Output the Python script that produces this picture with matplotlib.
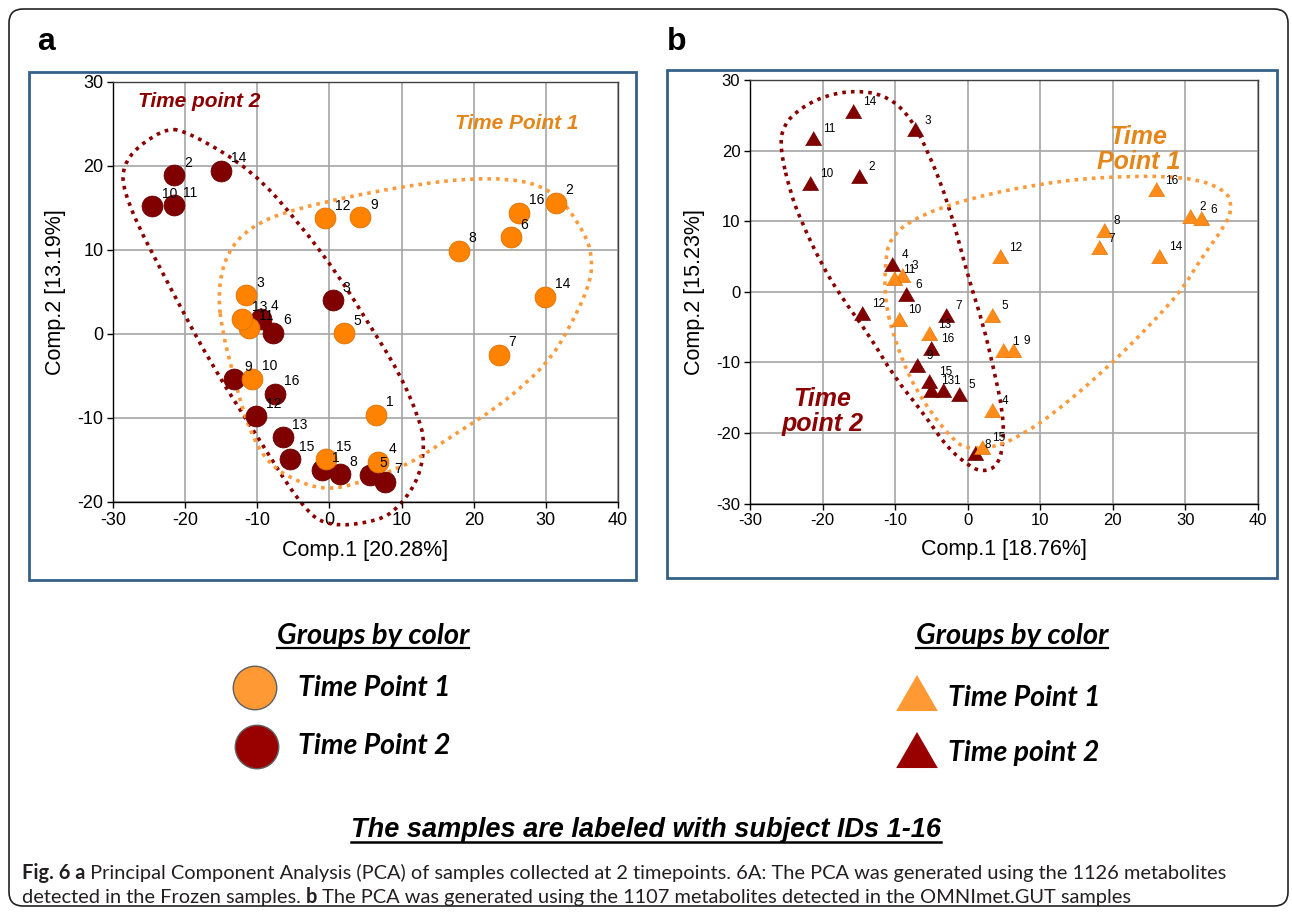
import numpy as np
import matplotlib.pyplot as plt
from matplotlib.path import Path
from matplotlib.patches import PathPatch, Rectangle, FancyBboxPatch

plt.rcParams["axes.unicode_minus"] = False

# ---- panel a : PCA of Frozen samples (circles) ----
ids = list(range(1, 17))
a_tp1_x = [6.5, 31.4, -11.5, 6.8, 2.0, 25.1, 23.5, 17.9, 4.3, -10.7, -11.1, -0.6, -12.1, 29.9, -0.5, 26.3]
a_tp1_y = [-9.6, 15.6, 4.6, -15.2, 0.1, 11.5, -2.5, 9.9, 13.9, -5.3, 0.7, 13.8, 1.75, 4.4, -14.9, 14.4]
a_tp2_x = [-1.0, -21.5, 0.5, -9.5, 5.6, -7.8, 7.7, 1.4, -13.2, -24.6, -21.6, -10.2, -6.5, -15.0, -5.5, -7.6]
a_tp2_y = [-16.2, 18.9, 4.0, 1.8, -16.8, 0.15, -17.6, -16.7, -5.4, 15.2, 15.3, -9.8, -12.3, 19.4, -14.9, -7.1]

# ---- panel b : PCA of OMNImet.GUT samples (triangles) ----
b_tp1_x = [4.8, 30.6, -9.1, 3.4, 3.3, 32.1, 18.1, 18.8, 6.3, -9.5, -10.2, 4.4, -5.4, 26.4, 2.0, 25.9]
b_tp1_y = [-8.3, 10.7, 2.4, -16.7, -3.3, 10.4, 6.3, 8.8, -8.2, -3.9, 1.9, 5.0, -5.9, 5.1, -22.0, 14.5]
b_tp2_x = [-3.4, -15.0, -7.3, -10.4, -1.2, -8.5, -3.0, 1.0, -7.0, -21.7, -21.3, -14.5, -5.0, -15.8, -5.3, -5.0]
b_tp2_y = [-13.9, 16.4, 23.0, 4.0, -14.5, -0.3, -3.3, -22.9, -10.4, 15.4, 21.8, -3.0, -13.9, 25.6, -12.6, -8.0]

# hand drawn group outlines (points along the dotted loops)
a_loop2_x = [-22.9, -28.8, -28.4, -21.7, -16.2, -9.7, -4.2, -0.5, 6.9, 9.9, 12.5, 13.2, 12.5, 9.7, 5.1, 1.4, -4.2, -10.7, -19.4]
a_loop2_y = [24.6, 20.7, 16.0, 4.9, -3.9, -12.6, -20.1, -23.0, -22.3, -20.4, -17.0, -13.0, -10.2, -4.6, 1.7, 6.8, 13.2, 19.5, 24.0]
a_loop1_x = [-15.5, -14.3, -11.1, -5.5, 9.7, 22.6, 30.9, 35.5, 36.5, 36.0, 33.0, 30.5, 27.2, 23.1, 18.0, 13.4, 10.2, 3.2, -0.4, -4.2, -8.7, -11.5, -13.4, -14.8]
a_loop1_y = [4.9, 9.6, 12.7, 14.8, 17.6, 18.8, 17.5, 12.0, 8.8, 5.6, 0.3, -3.1, -5.9, -8.8, -11.6, -14.2, -15.8, -18.0, -18.5, -17.7, -15.4, -10.6, -4.6, 0.1]
b_loop2_x = [-25.9, -25.4, -23.1, -19.4, -15.3, -11.6, -8.4, -5.6, -2.4, -0.1, 2.1, 3.5, 4.9, 4.9, 4.0, 2.1, 0.3, -2.9, -6.1, -10.2, -13.4, -17.6, -20.3, -22.9, -24.5]
b_loop2_y = [20.5, 23.6, 26.0, 27.9, 28.5, 27.9, 25.5, 20.3, 11.8, 2.6, -4.5, -10.6, -17.2, -22.0, -24.8, -25.5, -24.8, -22.0, -17.2, -12.0, -6.4, -0.5, 4.2, 9.9, 14.2]
b_loop1_x = [-11.4, -11.4, -10.7, -7.5, -0.6, 8.6, 18.2, 30.2, 35.7, 36.4, 35.7, 32.0, 29.5, 24.7, 18.5, 11.3, 7.7, 4.0, 0.1, -1.5, -4.7, -7.9, -10.2]
b_loop1_y = [-1.4, 4.2, 7.6, 10.4, 13.0, 15.1, 16.3, 16.4, 14.4, 12.0, 9.7, 4.5, 0.2, -5.2, -11.5, -17.7, -20.1, -22.0, -22.2, -21.5, -17.7, -12.5, -6.4]

ORANGE = "#FF8200"
ORANGE_B = "#FF8C1A"
DARK = "#800000"
LOOP_OR = "#FF9A3C"
LOOP_DK = "#8B0000"
TXT_OR = "#E5861A"
FRAME = "#356088"
AXFONT = "Liberation Sans"

fig = plt.figure(figsize=(12.92, 9.17), dpi=100)


def closed_path(xs, ys):
    pts = np.column_stack([xs, ys])
    mids = (pts + np.roll(pts, -1, axis=0)) / 2
    verts = [mids[-1]]
    codes = [Path.MOVETO]
    for i in range(len(pts)):
        verts += [pts[i], mids[i]]
        codes += [Path.CURVE3, Path.CURVE3]
    return Path(verts, codes)


def draw_loop(ax, xs, ys, color):
    p = PathPatch(closed_path(xs, ys), fill=False, edgecolor=color, lw=2.6,
                  linestyle=(0, (1, 1.4)), capstyle="butt", clip_on=False, zorder=2)
    ax.add_patch(p)


def style_axes(ax, yticks, tsize):
    ax.set_xlim(-30, 40)
    ax.set_ylim(yticks[0], yticks[-1])
    ax.set_xticks(range(-30, 41, 10))
    ax.set_yticks(yticks)
    ax.grid(True, color="#A6A6A6", lw=1.2)
    ax.set_axisbelow(True)
    for s in ax.spines.values():
        s.set_color("#404040")
        s.set_linewidth(1.0)
    ax.spines["left"].set_color("black")
    ax.spines["bottom"].set_color("black")
    ax.tick_params(direction="out", length=4, width=1, labelsize=tsize, pad=3)
    for lab in ax.get_xticklabels() + ax.get_yticklabels():
        lab.set_family(AXFONT)


tri = [(-1, -0.866), (1, -0.866), (0, 0.866)]

# panel a
ax1 = fig.add_axes([113 / 1292, 1 - 502 / 917, 505 / 1292, 420 / 917])
style_axes(ax1, list(range(-20, 31, 10)), 13)
draw_loop(ax1, a_loop2_x, a_loop2_y, LOOP_DK)
draw_loop(ax1, a_loop1_x, a_loop1_y, LOOP_OR)
ax1.scatter(a_tp2_x, a_tp2_y, s=225, c=DARK, edgecolors="#6A0000", lw=0.6, zorder=3)
ax1.scatter(a_tp1_x, a_tp1_y, s=225, c=ORANGE, edgecolors="#E07000", lw=0.6, zorder=4)
for xs, ys in [(a_tp2_x, a_tp2_y), (a_tp1_x, a_tp1_y)]:
    for i, x, y in zip(ids, xs, ys):
        ax1.annotate(str(i), (x, y), xytext=(7, 4), textcoords="offset points",
                     fontsize=10, family=AXFONT, ha="left", va="bottom", zorder=6)
ax1.text(-18.0, 27.7, "Time point 2", color=LOOP_DK, fontsize=15, fontweight="bold",
         style="italic", family=AXFONT, ha="center", va="center")
ax1.text(25.9, 25.1, "Time Point 1", color=TXT_OR, fontsize=15, fontweight="bold",
         style="italic", family=AXFONT, ha="center", va="center")
ax1.set_xlabel("Comp.1 [20.28%]", fontsize=15.5, family=AXFONT, labelpad=8)
ax1.set_ylabel("Comp.2 [13.19%]", fontsize=15.5, family=AXFONT, labelpad=8)

# panel b
ax2 = fig.add_axes([750 / 1292, 1 - 503.5 / 917, 508 / 1292, 423.5 / 917])
style_axes(ax2, list(range(-30, 31, 10)), 12)
draw_loop(ax2, b_loop2_x, b_loop2_y, LOOP_DK)
draw_loop(ax2, b_loop1_x, b_loop1_y, LOOP_OR)
ax2.scatter(b_tp2_x, b_tp2_y, s=135, marker=tri, c=DARK, edgecolors="#6A0000", lw=0.5, zorder=3)
ax2.scatter(b_tp1_x, b_tp1_y, s=135, marker=tri, c=ORANGE_B, edgecolors="#E07000", lw=0.5, zorder=4)
for xs, ys in [(b_tp2_x, b_tp2_y), (b_tp1_x, b_tp1_y)]:
    for i, x, y in zip(ids, xs, ys):
        ax2.annotate(str(i), (x, y), xytext=(7, 2), textcoords="offset points",
                     fontsize=8.5, family=AXFONT, ha="left", va="bottom", zorder=6)
ax2.text(-20.0, -17.0, "Time\npoint 2", color=LOOP_DK, fontsize=18, fontweight="bold",
         style="italic", family=AXFONT, ha="center", va="center", linespacing=1.05)
ax2.text(23.5, 20.2, "Time\nPoint 1", color=TXT_OR, fontsize=18, fontweight="bold",
         style="italic", family=AXFONT, ha="center", va="center", linespacing=1.05)
ax2.set_xlabel("Comp.1 [18.76%]", fontsize=15.5, family=AXFONT, labelpad=8)
ax2.set_ylabel("Comp.2 [15.23%]", fontsize=15.5, family=AXFONT, labelpad=8)

# overlay in pixel coordinates for frames, legends and captions
ov = fig.add_axes([0, 0, 1, 1], zorder=-1)
ov.set_xlim(0, 1292)
ov.set_ylim(917, 0)
ov.axis("off")
ov.add_patch(FancyBboxPatch((9, 9), 1279, 897, boxstyle="round,pad=0,rounding_size=14",
                            fill=False, ec="#222222", lw=1.2))
ov.add_patch(Rectangle((29, 72), 607, 508, fill=False, ec=FRAME, lw=2))
ov.add_patch(Rectangle((667, 70), 610, 508, fill=False, ec=FRAME, lw=2))
ov.text(37, 42, "a", fontsize=23, fontweight="bold", family=AXFONT, va="center")
ov.text(667, 42, "b", fontsize=23, fontweight="bold", family=AXFONT, va="center")

fig.canvas.draw()
rend = fig.canvas.get_renderer()


def underline(t, gap=3, lw=1.6):
    bb = t.get_window_extent(renderer=rend)
    inv = ov.transData.inverted()
    x0, y0 = inv.transform((bb.x0, bb.y0))
    x1, _ = inv.transform((bb.x1, bb.y0))
    ov.plot([x0, x1], [y0 + gap, y0 + gap], color="black", lw=lw)


LEGFONT = "Lato"
LEGSIZE = 20.5
for cx in [373, 1012]:
    t = ov.text(cx, 636, "Groups by color", fontsize=21, fontweight="bold", style="italic",
                family=LEGFONT, ha="center", va="center")
    underline(t, gap=-1)

ov.scatter([255, 257], [688, 747], s=980, c=["#FF9933", "#990000"], edgecolors="#606060", lw=1)
ov.text(298, 688, "Time Point 1", fontsize=LEGSIZE, fontweight="bold", style="italic", family=LEGFONT, va="center")
ov.text(298, 746, "Time Point 2", fontsize=LEGSIZE, fontweight="bold", style="italic", family=LEGFONT, va="center")
ov.scatter([917, 917], [693, 750], s=900, marker=tri, c=["#FF9933", "#990000"], lw=0)
ov.text(948, 698, "Time Point 1", fontsize=LEGSIZE, fontweight="bold", style="italic", family=LEGFONT, va="center")
ov.text(948, 753, "Time point 2", fontsize=LEGSIZE, fontweight="bold", style="italic", family=LEGFONT, va="center")

t = ov.text(646, 830, "The samples are labeled with subject IDs 1-16", fontsize=19.5,
            fontweight="bold", style="italic", family=AXFONT, ha="center", va="center")
underline(t, gap=-1, lw=1.8)

CAPFONT = "Lato"
CAPCOL = "#231F20"


def rich_line(x, y, parts, size):
    for txt, w in parts:
        tt = ov.text(x, y, txt, fontsize=size, fontweight=w, family=CAPFONT,
                     color=CAPCOL, ha="left", va="baseline")
        x += tt.get_window_extent(renderer=rend).width


rich_line(22, 879, [("Fig. 6 a", "bold"),
                    (" Principal Component Analysis (PCA) of samples collected at 2 timepoints. "
                     "6A: The PCA was generated using the 1126 metabolites", "normal")], 14.4)
rich_line(22, 903, [("detected in the Frozen samples. ", "normal"), ("b", "bold"),
                    (" The PCA was generated using the 1107 metabolites detected in the OMNImet.GUT samples",
                     "normal")], 14.4)

fig.savefig("out.png", dpi=100)
